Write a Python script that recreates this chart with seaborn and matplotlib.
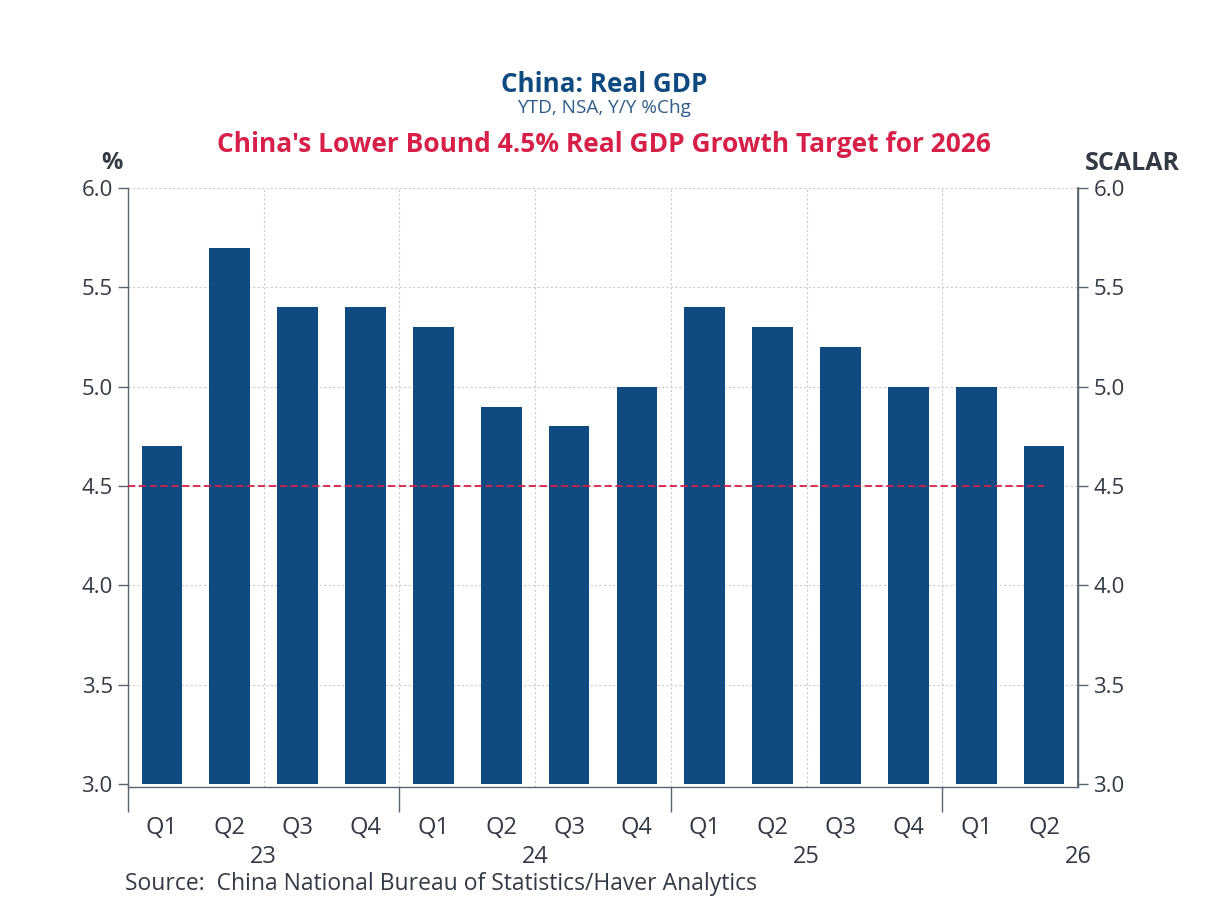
import numpy as np
import pandas as pd
import seaborn as sns
import matplotlib.pyplot as plt
import matplotlib.transforms as mtransforms

# data
quarters = ['Q1', 'Q2', 'Q3', 'Q4', 'Q1', 'Q2', 'Q3', 'Q4',
            'Q1', 'Q2', 'Q3', 'Q4', 'Q1', 'Q2']
years = ['23', '24', '25', '26']
gdp = [4.7, 5.7, 5.4, 5.4, 5.3, 4.9, 4.8, 5.0, 5.4, 5.3, 5.2, 5.0, 5.0, 4.7]
target = 4.5
base = 3.0
yticks = [3.0, 3.5, 4.0, 4.5, 5.0, 5.5, 6.0]

bar_col = '#0f4a80'
txt_col = '#333a44'
red = '#d6204a'

sns.set_theme(style='white')
plt.rcParams['font.family'] = ['Open Sans', 'DejaVu Sans']

df = pd.DataFrame({'pos': range(len(gdp)), 'gdp': gdp})

fig = plt.figure(figsize=(12.08, 9.06), dpi=100)
ax = fig.add_axes([0.106, 0.1313, 0.7864, 0.6612])

sns.barplot(data=df, x='pos', y='gdp', color=bar_col, width=0.6,
            saturation=1, ax=ax, native_scale=True, linewidth=0)
# bars start at 3.0
for p in ax.patches:
    p.set_height(p.get_height() - base)
    p.set_y(base)

ax.hlines(target, -0.5, len(gdp) - 1, colors=red, linestyles=(0, (4, 2)),
          linewidth=1.3, zorder=3)

ax.set_xlim(-0.5, len(gdp) - 0.5)
ax.set_ylim(2.985, 6.0)
ax.set_xlabel('')
ax.set_ylabel('')

# grid
ax.set_yticks(yticks)
ax.set_yticklabels([f'{v:.1f}' for v in yticks])
for y in yticks[1:]:
    ax.axhline(y, color='#cccccc', lw=0.8, ls=(0, (2, 2)), zorder=0)
for xg in np.arange(1.5, len(gdp) - 1, 2):
    ax.axvline(xg, color='#cccccc', lw=0.8, ls=(0, (2, 2)), zorder=0)

ax.set_xticks(range(len(gdp)))
ax.set_xticklabels(quarters)
ax.set_xticks([-0.5, 3.5, 7.5, 11.5], minor=True)
ax.tick_params(axis='x', which='major', length=0, pad=21, labelsize=17,
               labelcolor=txt_col)
ax.tick_params(axis='x', which='minor', length=18, width=1, color='#5a6470',
               direction='out', bottom=True)
ax.tick_params(axis='y', length=7, width=1, color='#5a6470', direction='out',
               left=True, labelsize=16, labelcolor=txt_col, pad=4)

for s in ['top']:
    ax.spines[s].set_visible(False)
for s in ['left', 'right', 'bottom']:
    ax.spines[s].set_color('#5a6470')
    ax.spines[s].set_linewidth(1)

ax2 = ax.twinx()
ax2.set_ylim(ax.get_ylim())
ax2.set_yticks(yticks)
ax2.set_yticklabels([f'{v:.1f}' for v in yticks])
ax2.tick_params(axis='y', length=7, width=1, color='#5a6470', direction='out',
                right=True, labelsize=16, labelcolor=txt_col, pad=4)
for s in ['top', 'left', 'bottom']:
    ax2.spines[s].set_visible(False)
ax2.spines['right'].set_color('#5a6470')
ax2.grid(False)

# year labels under the quarters
trans = mtransforms.blended_transform_factory(ax.transData, fig.transFigure)
for i, yr in enumerate(years):
    ax.text(1.5 + 4 * i, 1 - 857 / 906, yr, transform=trans, ha='center',
            va='center', fontsize=17, color=txt_col)

fig.text(0.5, 1 - 84 / 906, 'China: Real GDP', ha='center', va='center',
         fontsize=18.7, fontweight='bold', color='#0d4a7f')
fig.text(0.5, 1 - 108 / 906, 'YTD, NSA, Y/Y %Chg', ha='center', va='center',
         fontsize=13.7, color='#2d5c8a')
fig.text(0.5, 1 - 145 / 906,
         "China's Lower Bound 4.5% Real GDP Growth Target for 2026",
         ha='center', va='center', fontsize=19, fontweight='bold', color=red)
fig.text(112 / 1208, 1 - 163 / 906, '%', ha='center', va='center',
         fontsize=17, fontweight='bold', color=txt_col)
fig.text(1132 / 1208, 1 - 163 / 906, 'SCALAR', ha='center', va='center',
         fontsize=18, fontweight='bold', color=txt_col)
fig.text(125 / 1208, 1 - 884 / 906,
         'Source:  China National Bureau of Statistics/Haver Analytics',
         ha='left', va='center', fontsize=16.5, color=txt_col)

fig.savefig('out.png', dpi=100, facecolor='white')
